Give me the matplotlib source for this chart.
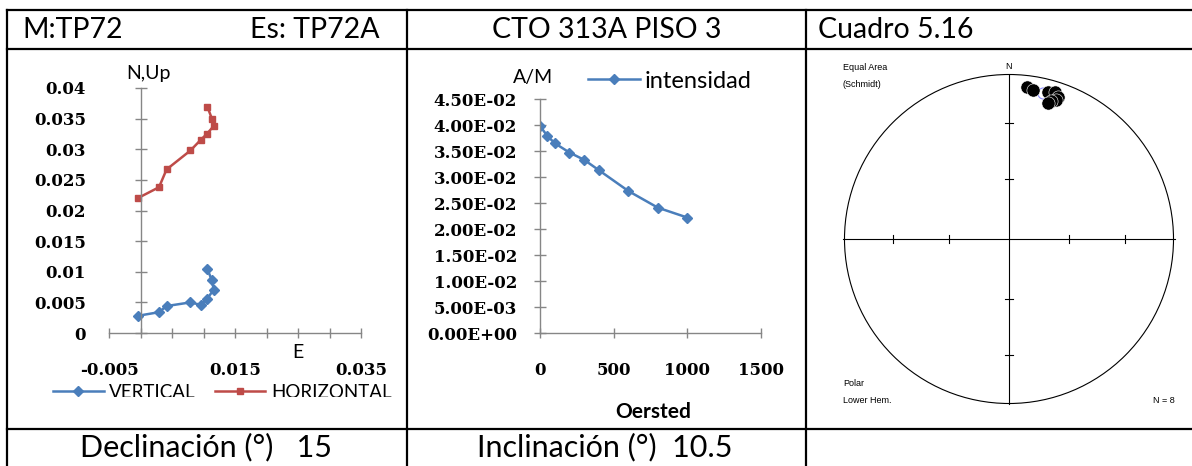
import matplotlib
matplotlib.use("Agg")

import matplotlib.pyplot as plt
from matplotlib.lines import Line2D
from matplotlib.patches import Circle
from matplotlib.transforms import Bbox, TransformedBbox
import numpy as np

# Zijderveld plot (E shared by both series)
east = [-0.0005, 0.0029, 0.0041, 0.0079, 0.0095, 0.0105, 0.0116, 0.0113, 0.0106]
vertical_up = [0.0028, 0.0034, 0.0044, 0.0050, 0.0046, 0.0055, 0.0071, 0.0086, 0.0104]
horizontal_n = [0.0220, 0.0238, 0.0267, 0.0298, 0.0315, 0.0325, 0.0338, 0.0350, 0.0369]

# AF demagnetisation
oersted = [0, 50, 100, 200, 300, 400, 600, 800, 1000]
intensidad = [0.0398, 0.0379, 0.0365, 0.0347, 0.0333, 0.0313, 0.0273, 0.0241, 0.0222]

# stereonet directions
dec = [6.9, 9.1, 14.9, 17.3, 19.0, 18.6, 17.1, 16.0]
inc = [7.8, 8.8, 8.2, 7.2, 9.5, 12.0, 13.4, 15.0]
mean_dec = 13.0
mean_inc = 10.0

header = ["M:TP72", "Es: TP72A", "CTO 313A PISO 3", "Cuadro 5.16"]
footer = ["Declinación (°)   15", "Inclinación (°)  10.5"]

W, H = 1192, 466
SANS = ["Lato", "DejaVu Sans"]
SERIF = ["DejaVu Serif"]
GRAY = "#868686"
BLUE = "#4A7EBB"
RED = "#BE4B48"


def fx(px):
    return px / W


def fy(py):
    return 1 - py / H


fig = plt.figure(figsize=(W / 100, H / 100), dpi=100)

# table grid
for y in [10, 49, 429]:
    fig.add_artist(Line2D([fx(7), 1], [fy(y), fy(y)], color="black", lw=1.6))
for x in [7, 407, 806]:
    fig.add_artist(Line2D([fx(x), fx(x)], [fy(10), 0], color="black", lw=1.6))

fig.text(fx(22), fy(30), header[0], family=SANS, fontsize=20.5, va="center")
fig.text(fx(379), fy(30), header[1], family=SANS, fontsize=20.5, va="center", ha="right")
fig.text(fx(607), fy(30), header[2], family=SANS, fontsize=20.5, va="center", ha="center")
fig.text(fx(818), fy(30), header[3], family=SANS, fontsize=20.5, va="center")
fig.text(fx(206), fy(447), footer[0], family=SANS, fontsize=22, va="center", ha="center")
fig.text(fx(605), fy(447), footer[1], family=SANS, fontsize=22, va="center", ha="center")


def style_axes(ax):
    for s in ["top", "right"]:
        ax.spines[s].set_visible(False)
    for s in ["left", "bottom"]:
        ax.spines[s].set_color(GRAY)
        ax.spines[s].set_linewidth(1.0)
    ax.tick_params(colors=GRAY, labelcolor="black", width=1.0, direction="inout")
    for lab in ax.get_xticklabels() + ax.get_yticklabels():
        lab.set_family(SERIF)
        lab.set_fontweight("bold")
        lab.set_fontsize(12)


def clip_text(t, bottom_px):
    box = TransformedBbox(Bbox.from_extents(0, fy(bottom_px), 1, 1), fig.transFigure)
    t.set_clip_box(box)
    t.set_clip_on(True)


# --- panel 1: Zijderveld
ax1 = fig.add_axes([fx(109.3), fy(333), (361 - 109.3) / W, (333 - 88) / H])
ax1.plot(east, vertical_up, color=BLUE, marker="D", ms=5.5, lw=1.8, label="VERTICAL")
ax1.plot(east, horizontal_n, color=RED, marker="s", ms=5, lw=1.8, label="HORIZONTAL")
ax1.set_xlim(-0.005, 0.035)
ax1.set_ylim(0, 0.04)
ax1.spines["left"].set_position(("data", 0))
xt = np.arange(-0.005, 0.0351, 0.005)
ax1.set_xticks(xt)
ax1.set_xticklabels(["-0.005", "", "", "", "0.015", "", "", "", "0.035"])
yt = np.arange(0, 0.0401, 0.005)
ax1.set_yticks(yt)
ax1.set_yticklabels(["0", "0.005", "0.01", "0.015", "0.02", "0.025", "0.03", "0.035", "0.04"])
style_axes(ax1)
ax1.tick_params(axis="y", length=8.6, pad=35.3)
ax1.tick_params(axis="x", length=7.2, pad=17.3)
fig.text(fx(148), fy(74), "N,Up", family=SANS, fontsize=14, ha="center", va="center")
fig.text(fx(298), fy(353), "E", family=SANS, fontsize=14, ha="center", va="center")
leg1 = ax1.legend(loc="center left", bbox_to_anchor=(fx(53), fy(392)),
                  bbox_transform=fig.transFigure, ncol=2, frameon=False,
                  borderpad=0, borderaxespad=0, handlelength=2.7,
                  handletextpad=0.3, columnspacing=1.0,
                  prop={"family": SANS, "size": 13.5})
for t in leg1.get_texts():
    clip_text(t, 397)

# --- panel 2: intensity
ax2 = fig.add_axes([fx(540), fy(333), (761 - 540) / W, (333 - 99) / H])
ax2.plot(oersted, intensidad, color=BLUE, marker="D", ms=5.5, lw=1.8, label="intensidad")
ax2.set_xlim(0, 1500)
ax2.set_ylim(0, 0.045)
ax2.set_xticks([0, 500, 1000, 1500])
ax2.set_yticks(np.arange(0, 0.0451, 0.005))
ax2.yaxis.set_major_formatter(lambda v, p: "{:.2E}".format(v))
style_axes(ax2)
ax2.tick_params(axis="y", length=8.6, pad=12.3)
ax2.tick_params(axis="x", length=7.2, pad=17.3)
fig.text(fx(533), fy(77), "A/M", family=SANS, fontsize=14, ha="center", va="center")
xl = fig.text(fx(653), fy(412), "Oersted", family=SANS, fontsize=15, fontweight="bold",
              ha="center", va="center")
clip_text(xl, 418)
ax2.legend(loc="center left", bbox_to_anchor=(fx(588), fy(81)),
           bbox_transform=fig.transFigure, frameon=False, borderpad=0,
           borderaxespad=0, handlelength=2.2, handletextpad=0.2,
           prop={"family": SANS, "size": 17})

# --- panel 3: equal-area stereonet
R = 164.5
half = 174
ax3 = fig.add_axes([fx(1009 - half), fy(239 + half), 2 * half / W, 2 * half / H])
lim = half / R
ax3.set_xlim(-lim, lim)
ax3.set_ylim(-lim, lim)
ax3.axis("off")
ax3.add_patch(Circle((0, 0), 1, fill=False, color="black", lw=0.8))
ax3.plot([-1.01, 1.01], [0, 0], color="black", lw=0.8)
ax3.plot([0, 0], [-1.0, 1.0], color="black", lw=0.8)
for p in [30, 60]:
    r = np.sqrt(2) * np.sin(np.radians((90 - p) / 2))
    for s in [-1, 1]:
        ax3.plot([s * r, s * r], [-0.025, 0.025], color="black", lw=0.8)
        ax3.plot([-0.025, 0.025], [s * r, s * r], color="black", lw=0.8)

rr = np.sqrt(2) * np.sin(np.radians((90 - np.array(inc)) / 2))
px = rr * np.sin(np.radians(dec))
py = rr * np.cos(np.radians(dec))
mr = np.sqrt(2) * np.sin(np.radians((90 - mean_inc) / 2))
ax3.plot(mr * np.sin(np.radians(mean_dec)), mr * np.cos(np.radians(mean_dec)), "o",
         ms=8, mfc="none", mec="#8c8cff", mew=0.8, zorder=2)
ax3.plot(px, py, "o", ms=9.5, color="black", mec="white", mew=0.4, ls="none", zorder=3)

small = {"family": ["Liberation Sans", "DejaVu Sans"], "fontsize": 6.5}
ax3.text(-1.01, 1.04, "Equal Area", va="center", ha="left", **small)
ax3.text(-1.01, 0.942, "(Schmidt)", va="center", ha="left", **small)
ax3.text(0, 1.048, "N", va="center", ha="center", **small)
ax3.text(-1.01, -0.881, "Polar", va="center", ha="left", **small)
ax3.text(-1.01, -0.979, "Lower Hem.", va="center", ha="left", **small)
ax3.text(1.009, -0.979, "N = 8", va="center", ha="right", **small)

plt.savefig("out.png", dpi=100)
plt.close()
